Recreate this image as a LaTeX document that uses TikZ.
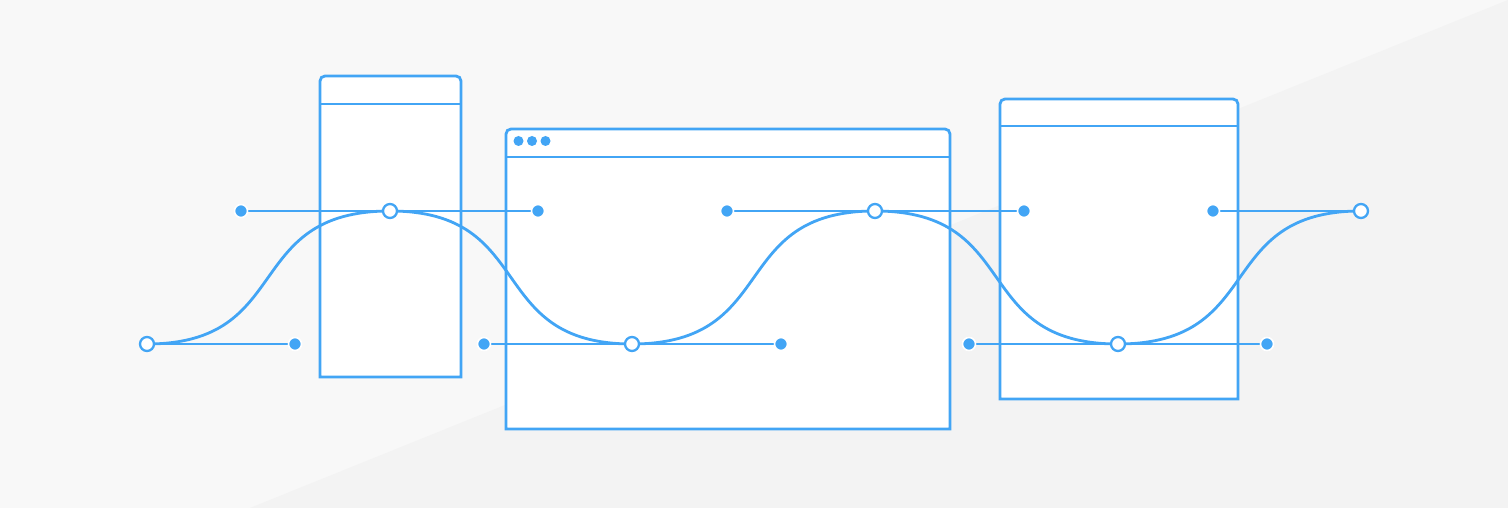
\documentclass[tikz,border=0pt]{standalone}
\pgfdeclarelayer{bg}
\pgfdeclarelayer{mid}
\pgfsetlayers{bg,mid,main}
\definecolor{bluel}{RGB}{66,165,245}
\definecolor{bgA}{RGB}{248,248,248}
\definecolor{bgB}{RGB}{243,243,243}
\tikzset{
  boxline/.style={draw=bluel, line width=2.8pt, fill=white},
  curveline/.style={draw=bluel, line width=2.8pt},
  handleline/.style={draw=bluel, line width=1.7pt},
  anchorpt/.style={circle, draw=bluel, fill=white, line width=2.3pt, inner sep=0pt, minimum size=14pt},
  handlept/.style={circle, draw=white, fill=bluel, line width=1.6pt, inner sep=0pt, minimum size=13pt},
  dotpt/.style={circle, fill=bluel, inner sep=0pt, minimum size=10pt},
}
\begin{document}
\begin{tikzpicture}[x=1pt,y=1pt]
\begin{pgfonlayer}{bg}
  \fill[bgA] (0,0) rectangle (1508,508);
  \fill[bgB] (250,0) -- (1508,508) -- (1508,0) -- cycle;
  % box 1
  \path[boxline] (320,131) -- (320,427) arc[start angle=180,end angle=90,radius=5] -- (456,432) arc[start angle=90,end angle=0,radius=5] -- (461,131) -- cycle;
  \draw[bluel, line width=2.8pt] (320,404) -- (461,404);
  % box 2
  \path[boxline] (506,79) -- (506,374) arc[start angle=180,end angle=90,radius=5] -- (945,379) arc[start angle=90,end angle=0,radius=5] -- (950,79) -- cycle;
  \draw[bluel, line width=2.8pt] (506,351) -- (950,351);
  % box 3
  \path[boxline] (1000,109) -- (1000,404) arc[start angle=180,end angle=90,radius=5] -- (1233,409) arc[start angle=90,end angle=0,radius=5] -- (1238,109) -- cycle;
  \draw[bluel, line width=2.8pt] (1000,382) -- (1238,382);
\end{pgfonlayer}
% browser dots
\node[dotpt] (d1) at (518.5,367) {};
\node[dotpt] (d2) at (532,367) {};
\node[dotpt] (d3) at (545.5,367) {};
% anchors
\node[anchorpt] (a1) at (147,164) {};
\node[anchorpt] (a2) at (390,297) {};
\node[anchorpt] (a3) at (632,164) {};
\node[anchorpt] (a4) at (875,297) {};
\node[anchorpt] (a5) at (1118,164) {};
\node[anchorpt] (a6) at (1361,297) {};
% handles
\node[handlept] (h1o) at (295,164) {};
\node[handlept] (h2i) at (241,297) {};
\node[handlept] (h2o) at (538,297) {};
\node[handlept] (h3i) at (484,164) {};
\node[handlept] (h3o) at (781,164) {};
\node[handlept] (h4i) at (727,297) {};
\node[handlept] (h4o) at (1024,297) {};
\node[handlept] (h5i) at (969,164) {};
\node[handlept] (h5o) at (1267,164) {};
\node[handlept] (h6i) at (1213,297) {};
\begin{pgfonlayer}{mid}
  \draw[handleline] (a1) -- (h1o);
  \draw[handleline] (a2) -- (h2i);
  \draw[handleline] (a2) -- (h2o);
  \draw[handleline] (a3) -- (h3i);
  \draw[handleline] (a3) -- (h3o);
  \draw[handleline] (a4) -- (h4i);
  \draw[handleline] (a4) -- (h4o);
  \draw[handleline] (a5) -- (h5i);
  \draw[handleline] (a5) -- (h5o);
  \draw[handleline] (a6) -- (h6i);
  \draw[curveline] (a1.center) .. controls (h1o.center) and (h2i.center) .. (a2.center)
    .. controls (h2o.center) and (h3i.center) .. (a3.center)
    .. controls (h3o.center) and (h4i.center) .. (a4.center)
    .. controls (h4o.center) and (h5i.center) .. (a5.center)
    .. controls (h5o.center) and (h6i.center) .. (a6.center);
\end{pgfonlayer}
\end{tikzpicture}
\end{document}
